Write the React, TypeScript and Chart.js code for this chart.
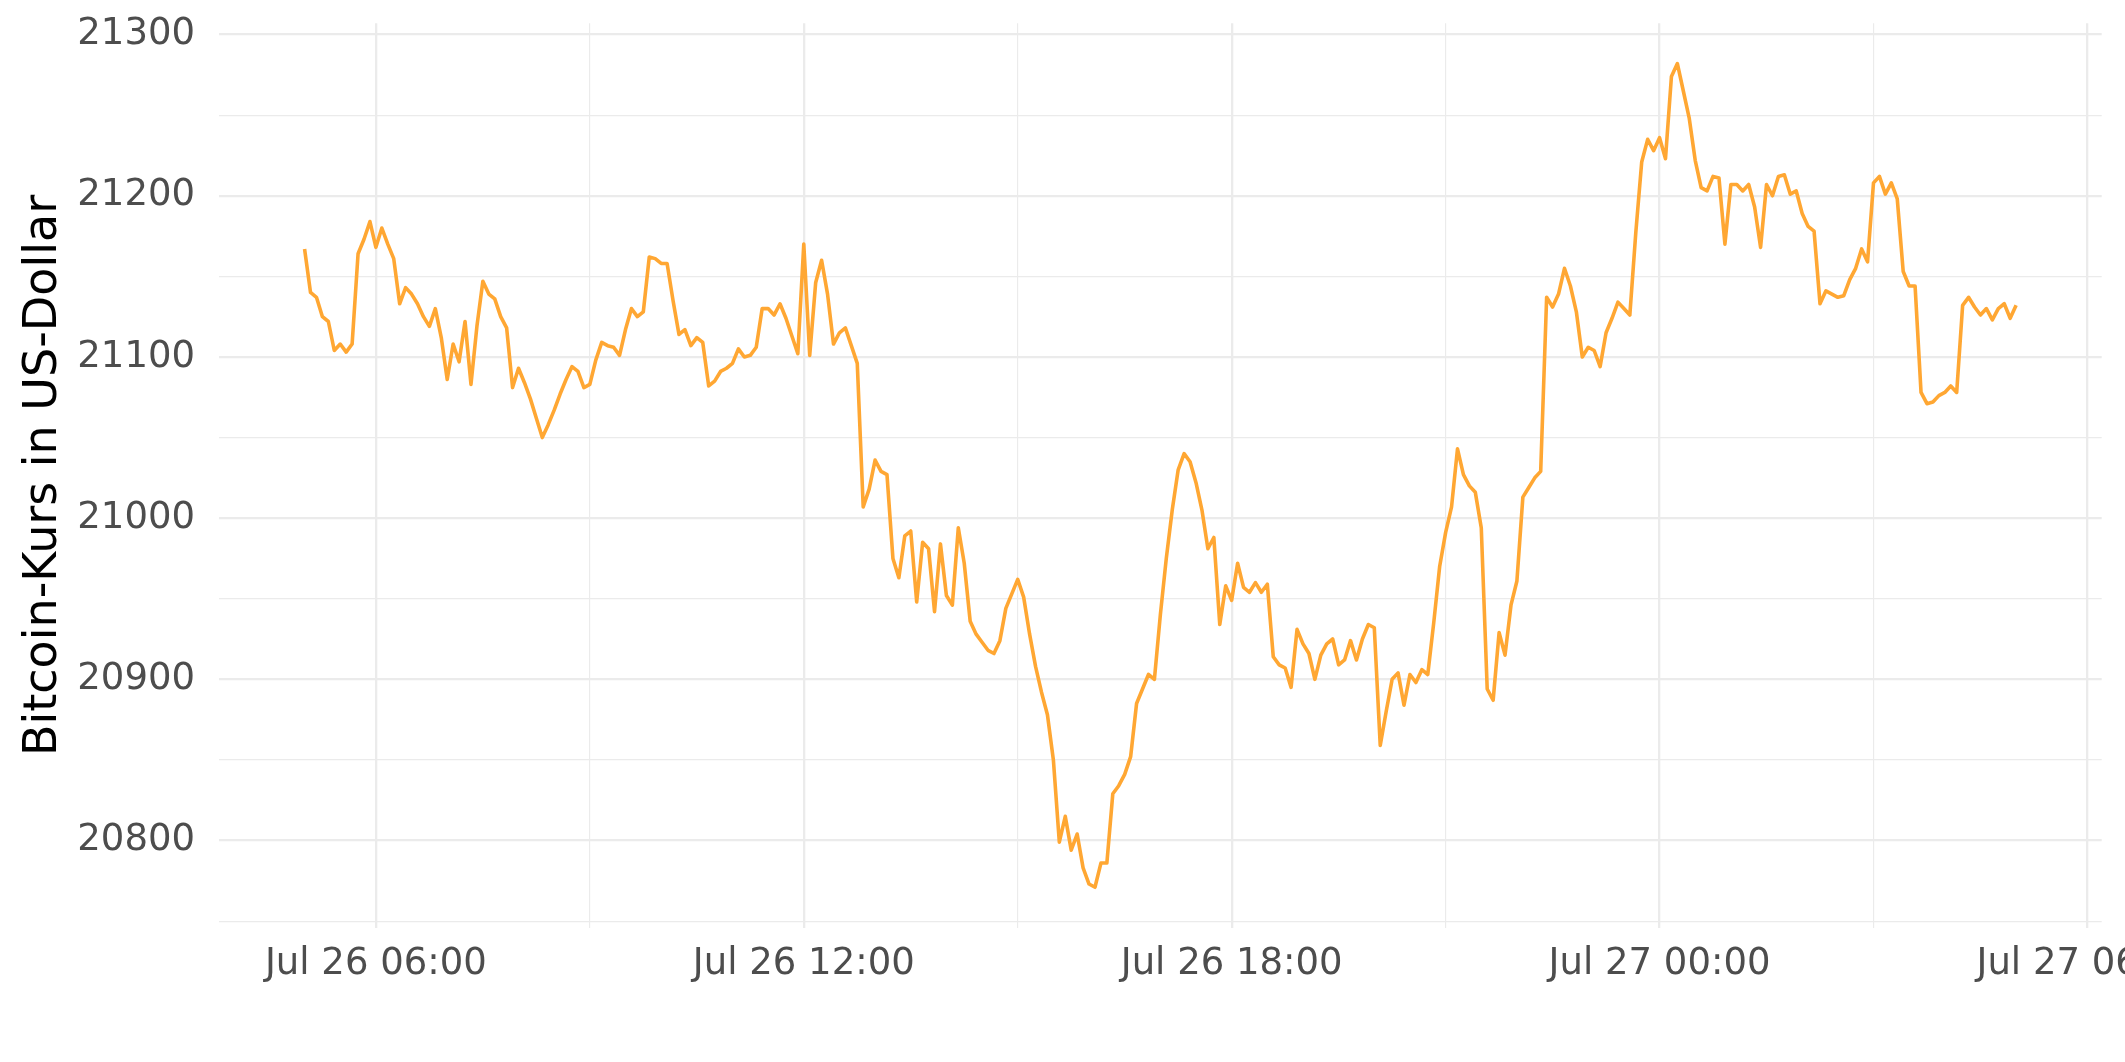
import { useEffect, useRef } from 'react';
import { Chart, registerables } from 'chart.js';

Chart.register(...registerables);

// Time axis: minutes after Jul 26 00:00; one price every 5 minutes from Jul 26 05:00
const START_MINUTE = 300;
const STEP_MINUTES = 5;

// Bitcoin price (USD), Jul 26 05:00 - 10:55
const pricesJul26Morning = [
  21167, 21140, 21137, 21125, 21122, 21104, 21108, 21103, 21108, 21164,
  21173, 21184, 21168, 21180, 21170, 21161, 21133, 21143, 21139, 21133,
  21125, 21119, 21130, 21112, 21086, 21108, 21097, 21122, 21083, 21119,
  21147, 21139, 21136, 21125, 21118, 21081, 21093, 21084, 21074, 21062,
  21050, 21058, 21067, 21077, 21086, 21094, 21091, 21081, 21083, 21098,
  21109, 21107, 21106, 21101, 21117, 21130, 21125, 21128, 21162, 21161,
  21158, 21158, 21135, 21114, 21117, 21107, 21112, 21109, 21082, 21085,
  21091, 21093,
];

// Jul 26 11:00 - 16:55
const pricesJul26Midday = [
  21096, 21105, 21100, 21101, 21106, 21130, 21130, 21126, 21133, 21124,
  21113, 21102, 21170, 21101, 21146, 21160, 21139, 21108, 21115, 21118,
  21107, 21096, 21007, 21018, 21036, 21029, 21027, 20975, 20963, 20989,
  20992, 20948, 20985, 20981, 20942, 20984, 20952, 20946, 20994, 20972,
  20936, 20928, 20923, 20918, 20916, 20924, 20944, 20953, 20962, 20951,
  20928, 20908, 20892, 20878, 20850, 20799, 20815, 20794, 20804, 20783,
  20773, 20771, 20786, 20786, 20829, 20834, 20841, 20852, 20885, 20894,
  20903, 20900,
];

// Jul 26 17:00 - 22:55
const pricesJul26Evening = [
  20940, 20975, 21005, 21030, 21040, 21035, 21022, 21005, 20981, 20988,
  20934, 20958, 20949, 20972, 20957, 20954, 20960, 20954, 20959, 20914,
  20909, 20907, 20895, 20931, 20922, 20916, 20900, 20915, 20922, 20925,
  20909, 20912, 20924, 20912, 20925, 20934, 20932, 20859, 20880, 20900,
  20904, 20884, 20903, 20898, 20906, 20903, 20935, 20970, 20991, 21007,
  21043, 21027, 21020, 21016, 20994, 20894, 20887, 20929, 20915, 20946,
  20961, 21013, 21019, 21025, 21029, 21137, 21131, 21139, 21155, 21144,
  21128, 21100,
];

// Jul 26 23:00 - Jul 27 05:00
const pricesJul27Night = [
  21106, 21104, 21094, 21115, 21124, 21134, 21130, 21126, 21177, 21221,
  21235, 21228, 21236, 21223, 21274, 21282, 21265, 21248, 21222, 21205,
  21203, 21212, 21211, 21170, 21207, 21207, 21203, 21207, 21193, 21168,
  21207, 21200, 21212, 21213, 21201, 21203, 21189, 21181, 21178, 21133,
  21141, 21139, 21137, 21138, 21148, 21155, 21167, 21159, 21208, 21212,
  21201, 21208, 21198, 21153, 21144, 21144, 21078, 21071, 21072, 21076,
  21078, 21082, 21078, 21132, 21137, 21131, 21126, 21130, 21123, 21130,
  21133, 21124, 21132,
];

const prices = [
  ...pricesJul26Morning,
  ...pricesJul26Midday,
  ...pricesJul26Evening,
  ...pricesJul27Night,
];

// Axis ticks
const xMajorTicks = [360, 720, 1080, 1440, 1800];
const xTickLabels = ['Jul 26 06:00', 'Jul 26 12:00', 'Jul 26 18:00', 'Jul 27 00:00', 'Jul 27 06:00'];
const xMinorTicks = [540, 900, 1260, 1620];
const yMajorTicks = [20800, 20900, 21000, 21100, 21200, 21300];
const yMinorTicks = [20750, 20850, 20950, 21050, 21150, 21250];

const X_MIN = 228;
const X_MAX = 1812;
const Y_MIN = 20745.9;
const Y_MAX = 21307;

const W = 2125;
const H = 1062;

const FONT = 'DejaVu Sans';
const GRID = '#EBEBEB';

function zeroPadding(s: any) {
  s.paddingLeft = 0;
  s.paddingRight = 0;
  s.paddingTop = 0;
  s.paddingBottom = 0;
}

export default function App() {
  const ref = useRef<HTMLCanvasElement>(null);

  useEffect(() => {
    const canvas = ref.current;
    if (!canvas) return;
    const points = prices.map((p, i) => ({ x: START_MINUTE + i * STEP_MINUTES, y: p }));

    const chart = new Chart(canvas, {
      type: 'line',
      data: {
        datasets: [
          {
            data: points,
            borderColor: '#FFA733',
            borderWidth: 3.6,
            pointRadius: 0,
            tension: 0,
            fill: false,
            borderJoinStyle: 'round',
            borderCapStyle: 'butt',
          },
        ],
      },
      options: {
        animation: false,
        responsive: false,
        devicePixelRatio: 1,
        layout: { padding: { left: 0, top: 23.3, right: 23.3, bottom: 0 } },
        plugins: { legend: { display: false }, tooltip: { enabled: false }, title: { display: false } },
        scales: {
          x: {
            type: 'linear',
            min: X_MIN,
            max: X_MAX,
            afterBuildTicks: (s: any) => {
              s.ticks = [...xMajorTicks, ...xMinorTicks].sort((a, b) => a - b).map((v) => ({ value: v }));
            },
            afterFit: (s: any) => {
              s.height = H - 927.7;
              zeroPadding(s);
            },
            grid: {
              color: GRID,
              lineWidth: (ctx: any) => (ctx.tick && xMajorTicks.includes(ctx.tick.value) ? 2.3 : 1.15),
              drawTicks: false,
            },
            border: { display: false },
            ticks: {
              autoSkip: false,
              maxRotation: 0,
              minRotation: 0,
              padding: 14,
              color: '#4D4D4D',
              font: { family: FONT, size: 37 },
              callback: (v: any) => {
                const i = xMajorTicks.indexOf(Number(v));
                return i >= 0 ? xTickLabels[i] : '';
              },
            },
          },
          y: {
            type: 'linear',
            min: Y_MIN,
            max: Y_MAX,
            afterBuildTicks: (s: any) => {
              s.ticks = [...yMajorTicks, ...yMinorTicks].sort((a, b) => a - b).map((v) => ({ value: v }));
            },
            afterFit: (s: any) => {
              s.width = 219;
              zeroPadding(s);
            },
            grid: {
              color: GRID,
              lineWidth: (ctx: any) => (ctx.tick && yMajorTicks.includes(ctx.tick.value) ? 2.3 : 1.15),
              drawTicks: false,
            },
            border: { display: false },
            ticks: {
              autoSkip: false,
              padding: 24,
              color: '#4D4D4D',
              font: { family: FONT, size: 37 },
              callback: (v: any) => (yMajorTicks.includes(Number(v)) ? String(v) : ''),
            },
            title: {
              display: true,
              text: 'Bitcoin-Kurs in US-Dollar',
              color: '#000000',
              font: { family: FONT, size: 46 },
              padding: { top: 16, bottom: 0 },
            },
          },
        },
      },
    });

    return () => chart.destroy();
  }, []);

  return (
    <div style={{ position: 'absolute', left: 0, top: 0, width: W, height: H, background: '#FFFFFF' }}>
      <canvas ref={ref} width={W} height={H} style={{ display: 'block', width: W, height: H }} />
    </div>
  );
}
